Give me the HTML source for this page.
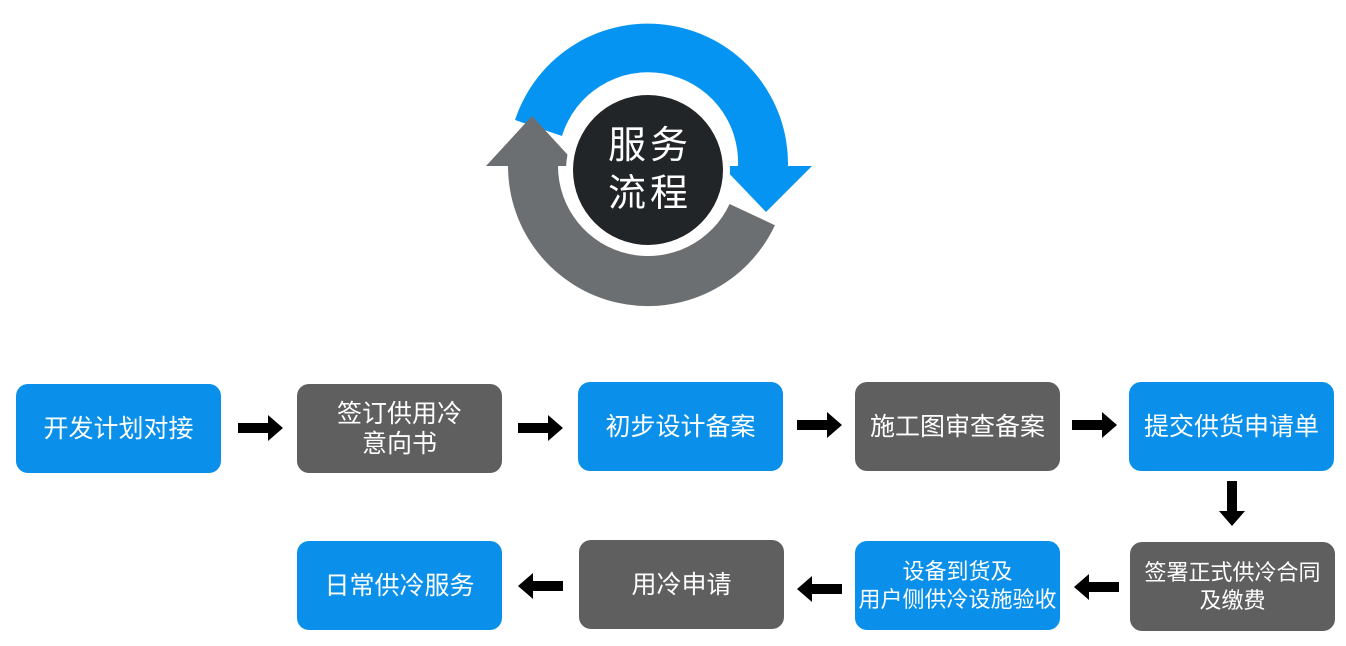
<!DOCTYPE html>
<html><head><meta charset="utf-8"><style>
body{margin:0;width:1346px;height:646px;background:#fff;position:relative;overflow:hidden;font-family:"Liberation Sans","Noto Sans CJK SC",sans-serif}
.b{position:absolute;width:205px;height:89px;border-radius:12px;color:#fff;font-size:25px;display:flex;align-items:center;justify-content:center;text-align:center;line-height:30px}
.u{background:#0a90ea}.g{background:#5f5f5f}
svg{position:absolute;left:0;top:0}
</style></head><body>
<svg width="1346" height="646">
<path d="M515,120 A140,140 0 0 1 788,166 L812,166 L766,212 L722,166 L738,166 A90,90 0 0 0 562,136 Z" fill="#0694f2"/>
<path d="M774.9,225.2 A140,140 0 0 1 508,166 L486,166 L532,116 L578,166 L558,166 A90,90 0 0 0 729.6,204 Z" fill="#6c6f72"/>
<circle cx="648" cy="170" r="82" fill="#fff"/>
<circle cx="648" cy="170" r="75" fill="#222527"/>
<text x="650" y="158" fill="#fff" font-size="38" text-anchor="middle" font-family="Noto Sans CJK SC,sans-serif" letter-spacing="4">服务</text>
<text x="650" y="206" fill="#fff" font-size="38" text-anchor="middle" font-family="Noto Sans CJK SC,sans-serif" letter-spacing="4">流程</text>
<g fill="#000">
<path d="M238,423h30v-8l15,13l-15,13v-8h-30z"/>
<path d="M518,423h30v-8l15,13l-15,13v-8h-30z"/>
<path d="M797,420h30v-8l15,13l-15,13v-8h-30z"/>
<path d="M1072,420h30v-8l15,13l-15,13v-8h-30z"/>
<path d="M1227,481h10v30h8l-13,15l-13,-15h8z"/>
<path d="M1119,582h-30v-8l-15,13l15,13v-8h30z"/>
<path d="M842,584h-30v-8l-15,13l15,13v-8h30z"/>
<path d="M563,581h-30v-8l-15,13l15,13v-8h30z"/>
</g>
</svg>
<div class="b u" style="left:16px;top:384px">开发计划对接</div>
<div class="b g" style="left:297px;top:384px">签订供用冷<br>意向书</div>
<div class="b u" style="left:578px;top:382px">初步设计备案</div>
<div class="b g" style="left:855px;top:382px">施工图审查备案</div>
<div class="b u" style="left:1129px;top:382px">提交供货申请单</div>
<div class="b u" style="left:297px;top:541px">日常供冷服务</div>
<div class="b g" style="left:579px;top:540px">用冷申请</div>
<div class="b u" style="left:855px;top:541px;font-size:22px;line-height:28px">设备到货及<br>用户侧供冷设施验收</div>
<div class="b g" style="left:1130px;top:542px;font-size:22px;line-height:28px">签署正式供冷合同<br>及缴费</div>
</body></html>
